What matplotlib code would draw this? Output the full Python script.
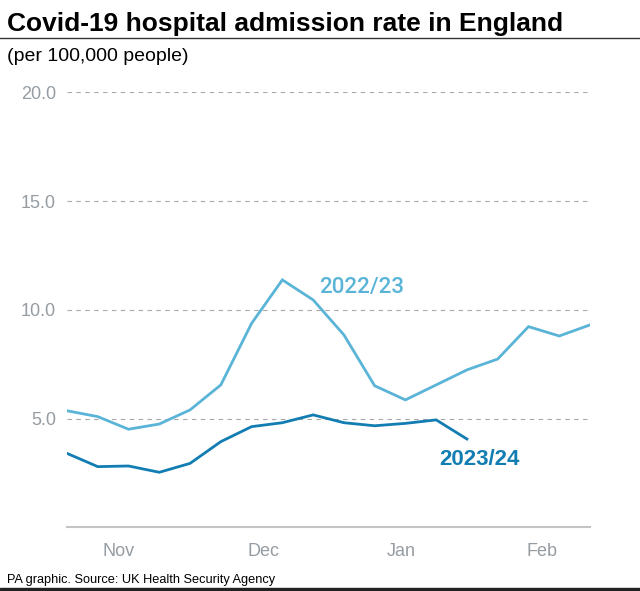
import matplotlib.pyplot as plt
from matplotlib.patches import Rectangle
from matplotlib.lines import Line2D

plt.rcParams['font.family'] = ['Liberation Sans', 'DejaVu Sans']

# weekly admission rates (per 100,000), x = week number from late October
weeks_2223 = list(range(18))
rate_2223 = [5.36, 5.09, 4.51, 4.75, 5.40, 6.55, 9.38, 11.38, 10.46, 8.85,
             6.51, 5.86, 6.55, 7.24, 7.74, 9.23, 8.80, 9.31]
weeks_2324 = list(range(14))
rate_2324 = [3.40, 2.79, 2.82, 2.53, 2.94, 3.94, 4.63, 4.81, 5.17, 4.81,
             4.67, 4.78, 4.94, 4.06]

month_pos = [1.69, 6.40, 10.86, 15.43]
month_labels = ['Nov', 'Dec', 'Jan', 'Feb']
y_ticks = [5, 10, 15, 20]

light = '#5ab4d8'
dark = '#127db3'
grey = '#959ca2'

fig = plt.figure(figsize=(6.4, 5.91), dpi=100)
ax = fig.add_axes([0.1047, 0.1078, 0.8172, 0.7357])

ax.plot(weeks_2223, rate_2223, color=light, lw=2.0, solid_joinstyle='miter')
ax.plot(weeks_2324, rate_2324, color=dark, lw=2.0, solid_joinstyle='miter')

ax.text(9.58, 11.05, '2022/23', color=light, fontsize=16, fontweight='medium',
        family=['Roboto', 'Liberation Sans'], ha='center', va='center')
ax.text(13.4, 3.10, '2023/24', color=dark, fontsize=16, fontweight='bold',
        ha='center', va='center')

ax.set_xlim(0, 17)
ax.set_ylim(0, 20)
ax.set_xticks(month_pos)
ax.set_xticklabels(month_labels)
ax.set_yticks(y_ticks)
ax.set_yticklabels([f'{v:.1f}' for v in y_ticks])
ax.tick_params(axis='both', length=0, labelsize=13, labelcolor=grey)
ax.tick_params(axis='x', pad=11)
ax.tick_params(axis='y', pad=8)

for v in y_ticks:
    ax.axhline(v, color='#a8a8a8', lw=0.8, ls=(0, (4, 4)), zorder=0)

for s in ['top', 'right', 'left']:
    ax.spines[s].set_visible(False)
ax.spines['bottom'].set_color('#c4c4c4')
ax.spines['bottom'].set_linewidth(1.5)

fig.text(7 / 640, 0.9475, 'Covid-19 hospital admission rate in England',
         fontsize=19, fontweight='bold', color='black', va='baseline')
fig.add_artist(Line2D([0, 1], [0.9362, 0.9362], color='#333333', lw=1.0,
                      transform=fig.transFigure))
fig.text(7 / 640, 0.897, '(per 100,000 people)', fontsize=14, color='black',
         va='baseline')
fig.text(7 / 640, 0.0135, 'PA graphic. Source: UK Health Security Agency',
         fontsize=9.2, color='black', va='baseline')
fig.add_artist(Rectangle((0, 0), 1, 0.005, color='#222222',
                         transform=fig.transFigure))

fig.savefig('out.png', dpi=100)
